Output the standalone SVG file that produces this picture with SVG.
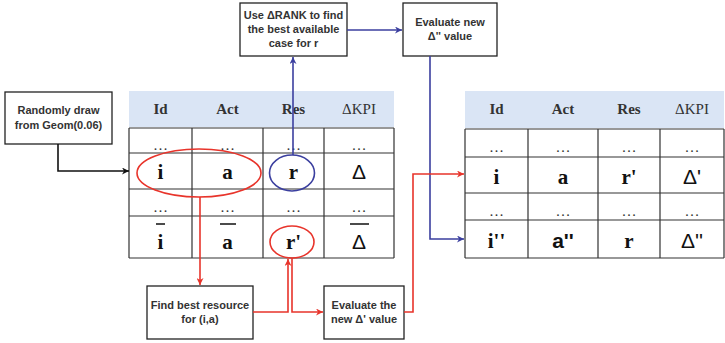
<svg xmlns="http://www.w3.org/2000/svg" width="725" height="343" viewBox="0 0 725 343">
<defs>
<style>
.box{fill:#fff;stroke:#222;stroke-width:1.3}
.bt{font-family:"Liberation Sans",Arial,sans-serif;font-weight:bold;font-size:11px;fill:#333;text-anchor:middle}
.hdr{fill:#dae5f5}
.grid{stroke:#333;stroke-width:1.2;fill:none}
.ht{font-family:"Liberation Serif","Times New Roman",serif;font-weight:bold;font-size:15px;fill:#333;text-anchor:middle}
.hk{font-family:"Liberation Serif","Times New Roman",serif;font-size:15px;fill:#333;text-anchor:middle}
.ct{font-family:"Liberation Serif","Times New Roman",serif;font-weight:bold;font-size:21px;fill:#111;text-anchor:middle}
.cs{font-family:"Liberation Sans",Arial,sans-serif;font-size:21px;fill:#111;text-anchor:middle}
.csb{font-family:"Liberation Sans",Arial,sans-serif;font-weight:bold;font-size:21px;fill:#111;text-anchor:middle}
.dt{font-family:"Liberation Serif","Times New Roman",serif;font-size:15px;fill:#333;text-anchor:middle}
.red{stroke:#e8342b;stroke-width:1.6;fill:none}
.blue{stroke:#3b3f9f;stroke-width:1.6;fill:none}
.blk{stroke:#111;stroke-width:1.6;fill:none}
.ol{stroke:#111;stroke-width:1.6}
</style>
<marker id="ar" viewBox="0 0 10 10" refX="10" refY="5" markerWidth="7" markerHeight="7" orient="auto" markerUnits="userSpaceOnUse"><path d="M0,0 L10,5 L0,10 L3,5 z" fill="#e8342b"/></marker>
<marker id="ab" viewBox="0 0 10 10" refX="10" refY="5" markerWidth="7" markerHeight="7" orient="auto" markerUnits="userSpaceOnUse"><path d="M0,0 L10,5 L0,10 L3,5 z" fill="#3b3f9f"/></marker>
<marker id="ak" viewBox="0 0 10 10" refX="10" refY="5" markerWidth="7" markerHeight="7" orient="auto" markerUnits="userSpaceOnUse"><path d="M0,0 L10,5 L0,10 L3,5 z" fill="#111"/></marker>
</defs>
<rect width="725" height="343" fill="#fff"/>

<g id="table-left">
<rect class="hdr" x="129" y="91" width="265" height="36"/>
<text class="ht" x="160.5" y="114">Id</text>
<text class="ht" x="227.5" y="114">Act</text>
<text class="ht" x="293.5" y="114">Res</text>
<text class="hk" x="359" y="114">ΔKPI</text>
<path class="grid" d="M129,128 H394 M129,153 H394 M129,189 H394 M129,216 H394 M129,258 H394 M129,128 V258 M192,128 V258 M263,128 V258 M324,128 V258 M394,128 V258"/>
<text class="dt" x="160.5" y="150">…</text><text class="dt" x="227.5" y="150">…</text><text class="dt" x="293.5" y="150">…</text><text class="dt" x="359" y="150">…</text>
<text class="ct" x="160.5" y="179">i</text><text class="ct" x="227.5" y="179">a</text><text class="ct" x="293.5" y="179">r</text><text class="cs" x="359" y="179">Δ</text>
<text class="dt" x="160.5" y="212">…</text><text class="dt" x="227.5" y="212">…</text><text class="dt" x="293.5" y="212">…</text><text class="dt" x="359" y="212">…</text>
<text class="ct" x="160.5" y="249">i</text><text class="ct" x="227.5" y="249">a</text><text class="ct" x="293.5" y="249">r'</text><text class="cs" x="359" y="249">Δ</text>
<path class="ol" d="M156,224 H165 M220,224 H236 M350,224 H369"/>
</g>

<g id="table-right">
<rect class="hdr" x="465" y="91" width="259" height="37"/>
<text class="ht" x="496.5" y="114">Id</text>
<text class="ht" x="563" y="114">Act</text>
<text class="ht" x="629" y="114">Res</text>
<text class="hk" x="692" y="114">ΔKPI</text>
<path class="grid" d="M465,129 H724 M465,157 H724 M465,193 H724 M465,220 H724 M465,258 H724 M465,129 V258 M528,129 V258 M598,129 V258 M660,129 V258 M724,129 V258"/>
<text class="dt" x="496.5" y="152">…</text><text class="dt" x="563" y="152">…</text><text class="dt" x="629" y="152">…</text><text class="dt" x="692" y="152">…</text>
<text class="ct" x="496.5" y="184">i</text><text class="ct" x="563" y="184">a</text><text class="ct" x="629" y="184">r'</text><text class="cs" x="692" y="184">Δ'</text>
<text class="dt" x="496.5" y="216">…</text><text class="dt" x="563" y="216">…</text><text class="dt" x="629" y="216">…</text><text class="dt" x="692" y="216">…</text>
<text class="ct" x="496.5" y="248">i''</text><text class="csb" x="563" y="248">a''</text><text class="ct" x="629" y="248">r</text><text class="cs" x="692" y="248">Δ''</text>
</g>

<g id="node-random">
<rect class="box" x="5" y="92" width="107" height="52"/>
<text class="bt" x="58.5" y="114">Randomly draw</text>
<text class="bt" x="58.5" y="129">from Geom(0.06)</text>
</g>
<g id="node-rank">
<rect class="box" x="240" y="3" width="107" height="53"/>
<text class="bt" x="293.5" y="19">Use ΔRANK to find</text>
<text class="bt" x="293.5" y="33">the best available</text>
<text class="bt" x="293.5" y="47">case for r</text>
</g>
<g id="node-eval2">
<rect class="box" x="403" y="3" width="94" height="53"/>
<text class="bt" x="450" y="26">Evaluate new</text>
<text class="bt" x="450" y="40">Δ'' value</text>
</g>
<g id="node-find">
<rect class="box" x="147" y="286" width="106" height="53"/>
<text class="bt" x="200" y="309">Find best resource</text>
<text class="bt" x="200" y="323">for (i,a)</text>
</g>
<g id="node-eval1">
<rect class="box" x="324" y="286" width="80" height="53"/>
<text class="bt" x="364" y="309">Evaluate the</text>
<text class="bt" x="364" y="323">new Δ' value</text>
</g>

<g id="connectors">
<ellipse class="red" cx="199" cy="173" rx="62" ry="24"/>
<ellipse class="blue" cx="292" cy="173" rx="22.5" ry="18"/>
<ellipse class="red" cx="292" cy="242" rx="22" ry="16"/>
<path class="blk" d="M58,144 V171 H129" marker-end="url(#ak)"/>
<path class="blue" d="M293,155 V57" marker-end="url(#ab)"/>
<path class="blue" d="M347,30 H402" marker-end="url(#ab)"/>
<path class="blue" d="M430,56 V239 H464" marker-end="url(#ab)"/>
<path class="red" d="M200,197 V285" marker-end="url(#ar)"/>
<path class="red" d="M253,312 H288 V259" marker-end="url(#ar)"/>
<path class="red" d="M292,258 V312 H323" marker-end="url(#ar)"/>
<path class="red" d="M404,312 H413 V174 H464" marker-end="url(#ar)"/>
</g>
</svg>
